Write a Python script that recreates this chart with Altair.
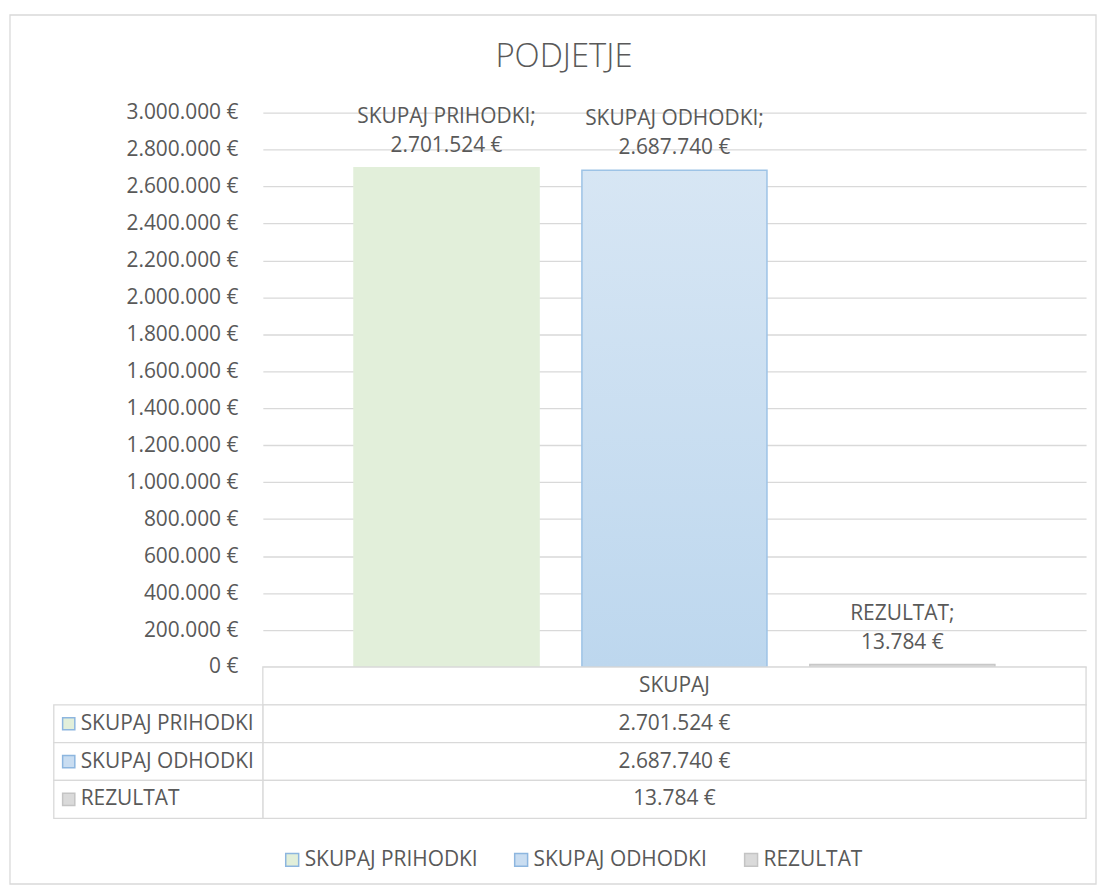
import altair as alt
import pandas as pd

# ---------------- data ----------------
chart_title = "PODJETJE"
category = "SKUPAJ"
series = ["SKUPAJ PRIHODKI", "SKUPAJ ODHODKI", "REZULTAT"]
values = [2701524, 2687740, 13784]
y_ticks = list(range(0, 3000001, 200000))

key_fills = ["#E2EFDA", "#C9DDF1", "#DADADA"]
key_strokes = ["#8DB6DF", "#8DB6DF", "#C4C4C4"]

df = pd.DataFrame({"category": category, "series": series, "value": values})
rows_domain = [category] + series
header_df = pd.DataFrame({"category": [category], "row": [category]})
title_df = pd.DataFrame({"title": [chart_title]})
left_df = pd.DataFrame({"row": series})
cells_df = pd.DataFrame({"category": category, "row": rows_domain})

# ---------------- style ----------------
FONT = "Open Sans"
GREY = "#595959"
GRID = "#D9D9D9"
FS = 21
W, H = 827, 557
LEFT = 210
ROW = 38

blue_grad = {
    "gradient": "linear", "x1": 0, "y1": 0, "x2": 0, "y2": 1,
    "stops": [{"offset": 0, "color": "#D7E6F4"}, {"offset": 1, "color": "#BDD7EE"}],
}
bar_fill = {
    "value": "#D9D9D9",
    "condition": [
        {"test": f"datum.series === '{series[0]}'", "value": "#E2EFDA"},
        {"test": f"datum.series === '{series[1]}'", "value": blue_grad},
    ],
}
bar_stroke = {
    "value": "#C8C8C8",
    "condition": [
        {"test": f"datum.series === '{series[0]}'", "value": "#E2EFDA"},
        {"test": f"datum.series === '{series[1]}'", "value": "#9DC3E6"},
    ],
}

x_enc = alt.X("category:N", axis=None, scale=alt.Scale(paddingInner=0, paddingOuter=0))
xo_enc = alt.XOffset("series:N", sort=series,
                     scale=alt.Scale(domain=series, paddingInner=0.188, paddingOuter=0.4))
y_axis = alt.Axis(values=y_ticks, format="$,.0f", title=None, domain=False, ticks=False,
                  grid=True, gridColor=GRID, gridWidth=1.3, labelFont=FONT, labelFontSize=FS,
                  labelColor=GREY, labelPadding=25, labelOverlap=False)
y_enc = alt.Y("value:Q", scale=alt.Scale(domain=[0, 3000000], nice=False), axis=y_axis)

# outer chart-area frame (decorative border around the whole chart) and chart title
frame = alt.Chart(header_df).mark_rect(fillOpacity=0, stroke=GRID, strokeWidth=1.3).encode(
    x=alt.value(-254), x2=alt.value(837), y=alt.value(-98), y2=alt.value(775)
)
title = alt.Chart(title_df).mark_text(font=FONT, fontSize=33, fontWeight=300, color=GREY,
                                      baseline="middle").encode(
    x=alt.value(W / 2 - 111), y=alt.value(-56), text="title:N"
)
bars = alt.Chart(df).mark_bar(strokeWidth=1.5).encode(
    x=x_enc, xOffset=xo_enc, y=y_enc, fill=bar_fill, stroke=bar_stroke)
labels = alt.Chart(df).transform_calculate(
    lbl="datum.series + ';\\n' + format(datum.value, '$,.0f')"
).mark_text(lineBreak="\n", baseline="bottom", dy=-41, font=FONT, fontSize=FS,
            color=GREY, lineHeight=29).encode(x=x_enc, xOffset=xo_enc, y=y_enc, text="lbl:N")
top = alt.layer(frame, title, bars, labels).properties(width=W, height=H)

# ---------------- data table ----------------
row_scale = alt.Scale(domain=rows_domain, paddingInner=0, paddingOuter=0)
ycell = alt.Y("row:N", scale=row_scale, axis=None)
xcell = alt.X("category:N", axis=None, scale=alt.Scale(paddingInner=0, paddingOuter=0))

legend = alt.Legend(
    title=None, orient="none", legendX=19, legendY=740, direction="horizontal",
    symbolType="square", symbolSize=169, symbolStrokeWidth=1.5, labelLimit=400,
    labelFont=FONT, labelFontSize=FS, labelColor=GREY, labelOffset=2, columnPadding=33,
)

val_cells = alt.Chart(cells_df).mark_rect(fill="white", stroke=GRID, strokeWidth=1.3).encode(
    x=xcell, y=ycell)
left_cells = alt.Chart(left_df).mark_rect(fill="white", stroke=GRID, strokeWidth=1.3).encode(
    x=alt.value(-LEFT), x2=alt.value(0), y=ycell)
left_keys = alt.Chart(left_df).mark_point(shape="square", filled=True, size=150, strokeWidth=1.5,
                                          opacity=1).encode(
    x=alt.value(-LEFT + 15), y=ycell,
    color=alt.Color("row:N", scale=alt.Scale(domain=series, range=key_fills), legend=legend),
    stroke=alt.Stroke("row:N", scale=alt.Scale(domain=series, range=key_strokes), legend=legend),
)
left_text = alt.Chart(left_df).mark_text(align="left", baseline="middle", font=FONT, fontSize=FS,
                                         color=GREY).encode(x=alt.value(-LEFT + 27), y=ycell,
                                                            text="row:N")
val_head = alt.Chart(header_df).mark_text(baseline="middle", font=FONT, fontSize=FS,
                                          color=GREY).encode(x=xcell, y=ycell, text="row:N")
val_text = alt.Chart(df).mark_text(baseline="middle", font=FONT, fontSize=FS, color=GREY).encode(
    x=xcell, y=alt.Y("series:N", scale=row_scale, axis=None),
    text=alt.Text("value:Q", format="$,.0f"))
bottom = alt.layer(val_cells, left_cells, left_keys, left_text, val_head, val_text).properties(
    width=W, height=ROW * 4)

chart = alt.vconcat(top, bottom, spacing=0, bounds="flush").properties(
    padding={"left": 0, "top": 3, "right": 0, "bottom": 0},
).resolve_scale(x="independent", y="independent").configure(
    locale={"number": {"decimal": ",", "thousands": ".", "grouping": [3], "currency": ["", " €"]}},
    view={"stroke": "transparent"},
)

chart.save("out.html", embed_options={"renderer": "svg", "actions": False})
